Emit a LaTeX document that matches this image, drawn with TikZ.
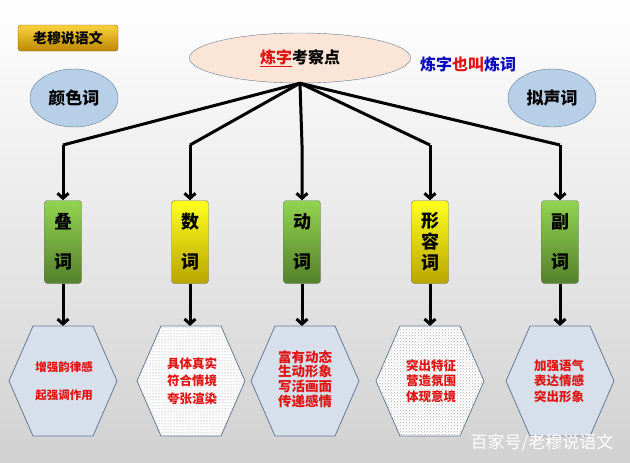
\documentclass[tikz,border=0pt]{standalone}
\usepackage{fontspec}
\setmainfont{Noto Sans CJK SC}
\usetikzlibrary{arrows.meta,patterns,shapes.geometric}
\definecolor{zired}{RGB}{225,20,20}
\definecolor{ziblue}{RGB}{10,10,190}
\definecolor{peach}{RGB}{251,229,214}
\definecolor{skyfill}{RGB}{184,207,232}
\definecolor{edgeblue}{RGB}{100,122,150}
\definecolor{hexfill}{RGB}{214,223,234}
\definecolor{grntop}{RGB}{146,212,80}
\definecolor{grnbot}{RGB}{84,128,44}
\definecolor{yeltop}{RGB}{255,255,30}
\definecolor{yelbot}{RGB}{185,165,0}
\definecolor{goldtop}{RGB}{250,210,60}
\definecolor{goldbot}{RGB}{190,135,0}
\definecolor{goldedge}{RGB}{120,90,20}

\tikzset{
  conn/.style={line width=3pt, -{Straight Barb[length=5pt,width=11pt]}},
  branch/.style={line width=3pt},
  wordbox/.style={draw=black!55, rounded corners=3pt, minimum width=37pt,
    minimum height=83pt, inner sep=0pt, align=center,
    font=\fontsize{18}{21}\selectfont\bfseries},
  greenbox/.style={wordbox, top color=grntop, bottom color=grnbot},
  yellowbox/.style={wordbox, top color=yeltop, bottom color=yelbot},
  sideoval/.style={ellipse, draw=edgeblue, fill=skyfill, minimum width=88pt,
    minimum height=58pt, font=\fontsize{17}{19}\selectfont\bfseries},
  hexline/.style={draw=edgeblue, line width=0.8pt},
  hextext/.style={text=zired, align=center, font=\fontsize{12.5}{15.5}\selectfont\bfseries}
}
% hexagon round centre x, y = 381
\newcommand{\hexpath}[1]{({#1-54},381) -- ({#1-30},326) -- ({#1+30},326) -- ({#1+54},381) -- ({#1+30},436) -- ({#1-30},436) -- cycle}

\begin{document}
\begin{tikzpicture}[x=1pt, y=-1pt]
  \shade[top color=white, bottom color=black!18] (0,0) rectangle (630,463);
  \useasboundingbox (0,0) rectangle (630,463);

  % title badge
  \node[draw=goldedge, rounded corners=3pt, top color=goldtop, bottom color=goldbot,
    minimum width=100pt, minimum height=26pt, font=\fontsize{14}{16}\selectfont\bfseries] (badge) at (68,38) {老穆说语文};

  % centre ellipse and side notes
  \node[ellipse, draw=edgeblue, fill=peach, minimum width=221pt, minimum height=50pt,
    font=\fontsize{16}{18}\selectfont\bfseries] (top) at (300,58)
    {\textcolor{zired}{\underline{炼字}}考察点};
  \node[font=\fontsize{16}{18}\selectfont\bfseries] (alias) at (468,64)
    {\textcolor{ziblue}{炼字}\textcolor{zired}{也叫}\textcolor{ziblue}{炼词}};
  \node[sideoval] (colour) at (74,98) {颜色词};
  \node[sideoval] (sound) at (552,98) {拟声词};

  % word boxes
  \node[greenbox] (w1) at (63,242) {叠\\[19pt]词};
  \node[yellowbox] (w2) at (190,242) {数\\[19pt]词};
  \node[greenbox] (w3) at (302,242) {动\\[19pt]词};
  \node[yellowbox] (w4) at (430,242) {形\\容\\词};
  \node[greenbox] (w5) at (560,242) {副\\[19pt]词};

  \foreach \i/\x in {1/63,2/190,3/302,4/430,5/560} {
    \coordinate (b\i) at (\x,145);
    \coordinate (h\i) at (\x,326);
  }
  \draw[branch] (top.south) -- (b1);
  \draw[branch] (top.south) -- (b2);
  \draw[branch] (top.south) -- (b4);
  \draw[branch] (top.south) -- (b5);
  \draw[conn] (top.south) -- (b3) -- (w3.north);
  \foreach \i in {1,2,4,5}
    \draw[conn] (b\i) -- (w\i.north);
  \foreach \i in {1,...,5}
    \draw[conn] (w\i.south) -- (h\i);

  % hexagons
  \draw[hexline, fill=hexfill] \hexpath{63};
  \draw[hexline, fill=white, postaction={pattern=dots, pattern color=black!45}] \hexpath{191};
  \draw[hexline, fill=hexfill] \hexpath{305};
  \draw[hexline, fill=white, postaction={pattern=crosshatch dots, pattern color=black!30}] \hexpath{430};
  \draw[hexline, fill=hexfill] \hexpath{560};

  \node[hextext, font=\fontsize{11.5}{14}\selectfont\bfseries] (e1) at (64,381) {增强韵律感\\[14pt]起强调作用};
  \node[hextext, font=\fontsize{12.5}{17.5}\selectfont\bfseries] (e2) at (192,381) {具体真实\\符合情境\\夸张渲染};
  \node[hextext, font=\fontsize{13.5}{14.7}\selectfont\bfseries] (e3) at (305,379) {富有动态\\生动形象\\写活画面\\传递感情};
  \node[hextext] (e4) at (431,381) {突出特征\\营造氛围\\体现意境};
  \node[hextext] (e5) at (559,381) {加强语气\\表达情感\\突出形象};

  \node[text=white, font=\fontsize{17}{19}\selectfont] (mark) at (542,443) {百家号/老穆说语文};
\end{tikzpicture}
\end{document}
